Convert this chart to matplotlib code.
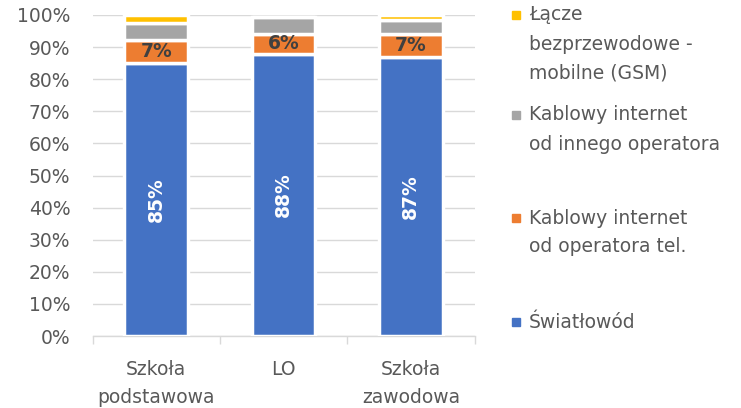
import matplotlib
matplotlib.use("Agg")
import matplotlib.pyplot as plt
from matplotlib.patches import Rectangle
import numpy as np

categories = ["Szkoła\npodstawowa", "LO", "Szkoła\nzawodowa"]
series_names = ["Światłowód",
                "Kablowy internet\nod operatora tel.",
                "Kablowy internet\nod innego operatora",
                "Łącze\nbezprzewodowe -\nmobilne (GSM)"]
swiatlowod = [85.0, 87.8, 86.8]
kablowy_tel = [7.3, 6.4, 7.4]
kablowy_inny = [5.2, 5.1, 4.1]
gsm = [2.5, 0.0, 1.7]
colors = ["#4472C4", "#ED7D31", "#A5A5A5", "#FFC000"]
yticks = list(range(0, 101, 10))

plt.rcParams['font.family'] = ['DejaVu Sans']
FS = 13.5
TXT = "#595959"

W, H = 741, 408
fig = plt.figure(figsize=(W / 100, H / 100), dpi=100)
ax = fig.add_axes([92.5 / W, 1 - 336 / H, 382 / W, 321 / H])

x = np.arange(len(categories))
series = [swiatlowod, kablowy_tel, kablowy_inny, gsm]
bottom = np.zeros(len(categories))
for vals, c in zip(series, colors):
    vals = np.array(vals)
    ax.bar(x, vals, bottom=bottom, width=0.5, color=c, edgecolor="white",
           linewidth=2.5, zorder=3)
    bottom = bottom + vals

# data labels
for i, v in enumerate(swiatlowod):
    ax.text(x[i], v / 2, f"{v:.0f}%", rotation=90, ha="center", va="center",
            color="white", fontsize=FS, fontweight="bold", zorder=4)
for i, v in enumerate(kablowy_tel):
    ax.text(x[i], swiatlowod[i] + v / 2, f"{v:.0f}%", ha="center", va="center",
            color="#404040", fontsize=FS, fontweight="bold", zorder=4)

ax.set_xlim(-0.5, len(categories) - 0.5)
ax.set_ylim(0, 100)
ax.set_yticks(yticks)
ax.set_yticklabels([f"{t}%" for t in yticks])
ax.grid(axis="y", color="#D9D9D9", linewidth=1.0, zorder=0)
ax.set_axisbelow(True)
for s in ["left", "right", "top"]:
    ax.spines[s].set_visible(False)
ax.spines["bottom"].set_color("#D9D9D9")
ax.spines["bottom"].set_linewidth(1.0)

ax.set_xticks(x)
ax.set_xticklabels(categories, linespacing=1.6)
ax.set_xticks(np.arange(-0.5, len(categories)), minor=True)
ax.tick_params(axis="x", which="major", length=0, pad=17, labelsize=FS, labelcolor=TXT)
ax.tick_params(axis="x", which="minor", length=6, width=1.0, color="#D9D9D9")
ax.tick_params(axis="y", length=0, pad=16, labelsize=FS, labelcolor=TXT)

# legend (manual, Excel-like layout), top to bottom
legend_top_px = [15, 115, 218, 322]
step = 29
for k, idx in enumerate([3, 2, 1, 0]):
    y0 = legend_top_px[k]
    fig.patches.append(Rectangle(((512) / W, 1 - (y0 + 4) / H), 8 / W, 8 / H,
                                 transform=fig.transFigure, color=colors[idx]))
    for j, line in enumerate(series_names[idx].split("\n")):
        fig.text(529 / W, 1 - (y0 + j * step) / H, line, ha="left", va="center",
                 fontsize=FS, color=TXT)

fig.savefig("out.png", dpi=100)
